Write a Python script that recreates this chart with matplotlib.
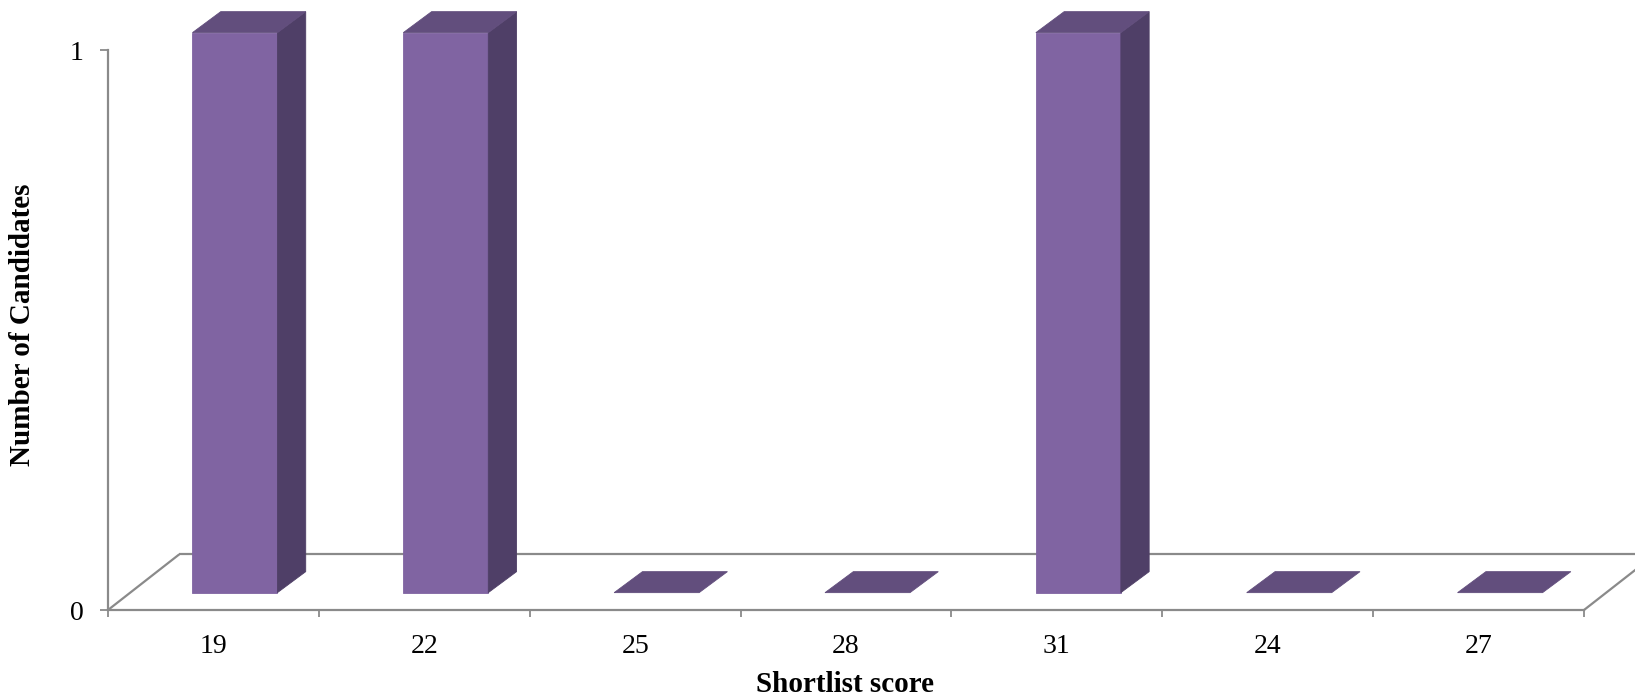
import matplotlib
matplotlib.use("Agg")
import matplotlib.pyplot as plt
from matplotlib.patches import Polygon
from matplotlib.ticker import FixedLocator

# ---- data ----
categories = ['19', '22', '25', '28', '31', '24', '27']
counts = [1, 1, 0, 0, 1, 0, 0]
yticks = [0, 1]
xlabel = 'Shortlist score'
ylabel = 'Number of Candidates'

# ---- style ----
W, H = 1635, 696
front_col = '#8064A2'
side_col = '#4F3F67'
top_col = '#624E7D'
axis_col = '#8A8A8A'
serif = ['Liberation Serif', 'DejaVu Serif']

fig = plt.figure(figsize=(W / 100, H / 100), dpi=100)
left_px, right_px, y0_px, y1_px = 108, 1584, 610, 50
ax = fig.add_axes([left_px / W, (H - y0_px) / H,
                   (right_px - left_px) / W, (y0_px - y1_px) / H])
n = len(categories)
ax.set_xlim(-0.5, n - 0.5)
ax.set_ylim(0, 1)

px_x = (right_px - left_px) / n      # pixels per category
px_y = (y0_px - y1_px)               # pixels per unit
# depth geometry (in data units)
floor_dx, floor_dy = 71.3 / px_x, 55.7 / px_y
bar_w = 85 / px_x
bar_dx, bar_dy = 28.3 / px_x, 21 / px_y
lift_dx = (floor_dx - bar_dx) / 2
lift_dy = (floor_dy - bar_dy) / 2

lkw = dict(color=axis_col, lw=1.6, clip_on=False, zorder=1,
           solid_capstyle='butt')
# floor: back edge and side diagonals
ax.plot([-0.5 + floor_dx, n - 0.5 + floor_dx], [floor_dy, floor_dy], **lkw)
ax.plot([-0.5, -0.5 + floor_dx], [0, floor_dy], **lkw)
ax.plot([n - 0.5, n - 0.5 + floor_dx], [0, floor_dy], **lkw)

# bars
for i, v in enumerate(counts):
    xl = i - bar_w / 2 + lift_dx
    xr = xl + bar_w
    yb = lift_dy
    yt = yb + v
    pkw = dict(clip_on=False, zorder=3, lw=0.6, joinstyle='miter')
    if v > 0:
        ax.add_patch(Polygon([(xl, yb), (xr, yb), (xr, yt), (xl, yt)],
                             closed=True, fc=front_col, ec=front_col, **pkw))
        ax.add_patch(Polygon([(xr, yb), (xr + bar_dx, yb + bar_dy),
                              (xr + bar_dx, yt + bar_dy), (xr, yt)],
                             closed=True, fc=side_col, ec=side_col, **pkw))
    ax.add_patch(Polygon([(xl, yt), (xr, yt), (xr + bar_dx, yt + bar_dy),
                          (xl + bar_dx, yt + bar_dy)],
                         closed=True, fc=top_col, ec=top_col, **pkw))

# axes styling
for s in ['top', 'right']:
    ax.spines[s].set_visible(False)
for s in ['left', 'bottom']:
    ax.spines[s].set_color(axis_col)
    ax.spines[s].set_linewidth(1.6)

ax.set_xticks(range(n))
ax.set_xticklabels(categories, family=serif, fontsize=20)
ax.xaxis.set_minor_locator(FixedLocator([k - 0.5 for k in range(n + 1)]))
ax.tick_params(axis='x', which='major', length=0, pad=17.5)
ax.tick_params(axis='x', which='minor', length=5, width=1.3, color=axis_col,
               direction='out')
ax.set_yticks(yticks)
ax.set_yticklabels([str(t) for t in yticks], family=serif, fontsize=20)
ax.tick_params(axis='y', length=5.8, width=1.3, color=axis_col, pad=12)
ax.set_facecolor('none')

fig.text(845 / W, 1 - 684 / H, xlabel, ha='center', va='center',
         family=serif, fontsize=21, fontweight='bold')
fig.text(23 / W, 1 - 325 / H, ylabel, ha='center', va='center', rotation=90,
         family=serif, fontsize=21, fontweight='bold')

fig.savefig('out.png', dpi=100)
